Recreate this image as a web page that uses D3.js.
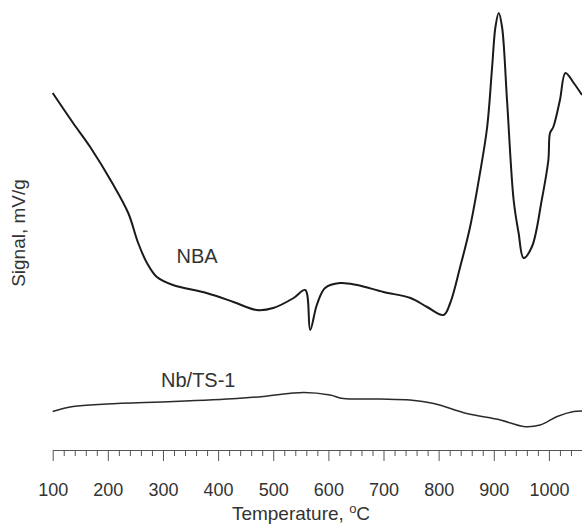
<!DOCTYPE html>
<html>
<head>
<meta charset="utf-8">
<script src="https://cdn.jsdelivr.net/npm/d3@7"></script>
<style>
    body { margin: 0; background: #fff; }
    text { font-family: "Liberation Sans", Arial, sans-serif; fill: #333; }
</style>
</head>
<body>
<svg id="chart" width="582" height="530"></svg>
<script>
// temperature (°C) and signal (arbitrary units)
const nbaTemp = [100, 137, 168, 208, 237, 255, 271, 289, 318, 379, 428, 470, 500, 537, 558, 567, 579, 594, 621, 652, 700, 749, 779, 809, 821, 839, 857, 875, 888, 897, 903, 909, 915, 924, 936, 945, 954, 969, 987, 999, 1002, 1008, 1020, 1030, 1045, 1060];
const nbaSignal = [7.14, 6.54, 6.06, 5.34, 4.74, 4.14, 3.74, 3.46, 3.30, 3.14, 2.96, 2.80, 2.84, 3.04, 3.20, 2.40, 2.90, 3.24, 3.34, 3.30, 3.16, 3.04, 2.86, 2.70, 2.94, 3.66, 4.46, 5.54, 6.46, 7.66, 8.46, 8.74, 8.46, 7.00, 5.00, 4.34, 3.84, 4.06, 5.00, 5.80, 6.34, 6.46, 7.00, 7.54, 7.34, 7.10];

const tsTemp = [100, 137, 198, 319, 434, 482, 555, 603, 627, 694, 748, 791, 851, 912, 954, 984, 1015, 1045, 1060];
const tsSignal = [0.77, 0.87, 0.92, 0.97, 1.03, 1.07, 1.15, 1.10, 1.03, 1.02, 1.00, 0.93, 0.73, 0.60, 0.47, 0.50, 0.67, 0.77, 0.78];

const majorTicks = [100, 200, 300, 400, 500, 600, 700, 800, 900, 1000];
const minorTicks = d3.range(120, 1060, 20).filter(t => t % 100 !== 0);

const seriesLabels = [
    { text: "NBA", t: 362, v: 3.74 },
    { text: "Nb/TS-1", t: 364, v: 1.26 }
];

const svg = d3.select("#chart");

const x = d3.scaleLinear().domain([100, 1060]).range([52.7, 582]);
const y = d3.scaleLinear().domain([0, 9]).range([450, 0]);

// axis: minor ticks first, then major ticks with labels
svg.append("g")
    .attr("transform", "translate(0,450)")
    .call(d3.axisBottom(x).tickValues(minorTicks).tickSize(6).tickSizeOuter(0).tickFormat(""))
    .call(g => g.select(".domain").remove())
    .selectAll("line").attr("stroke", "#555");

const xAxis = svg.append("g")
    .attr("transform", "translate(0,450)")
    .call(d3.axisBottom(x).tickValues(majorTicks).tickSize(11).tickSizeOuter(0).tickPadding(22).tickFormat(d3.format("d")));

xAxis.select(".domain").attr("stroke", "#555").attr("stroke-width", 1.2);
xAxis.selectAll("line").attr("stroke", "#555");
xAxis.selectAll("text")
    .style("font-family", "'Liberation Sans', Arial, sans-serif")
    .style("font-size", "18px")
    .attr("fill", "#333");

const line = d3.line()
    .x(d => x(d[0]))
    .y(d => y(d[1]))
    .curve(d3.curveCatmullRom.alpha(0.5));

svg.append("path")
    .datum(d3.zip(nbaTemp, nbaSignal))
    .attr("d", line)
    .attr("fill", "none")
    .attr("stroke", "#1a1a1a")
    .attr("stroke-width", 2);

svg.append("path")
    .datum(d3.zip(tsTemp, tsSignal))
    .attr("d", line)
    .attr("fill", "none")
    .attr("stroke", "#2a2a2a")
    .attr("stroke-width", 1.5);

seriesLabels.forEach(l => {
    svg.append("text")
        .attr("x", x(l.t))
        .attr("y", y(l.v))
        .attr("text-anchor", "middle")
        .style("font-size", "20px")
        .text(l.text);
});

// axis titles
const xTitle = svg.append("text")
    .attr("x", 301)
    .attr("y", 520)
    .attr("text-anchor", "middle")
    .style("font-size", "19px");
xTitle.append("tspan").text("Temperature, ");
xTitle.append("tspan").attr("dy", -7).style("font-size", "13px").text("o");
xTitle.append("tspan").attr("dy", 7).text("C");

svg.append("text")
    .attr("transform", "translate(25,233) rotate(-90)")
    .attr("text-anchor", "middle")
    .style("font-size", "19px")
    .text("Signal, mV/g");
</script>
</body>
</html>
